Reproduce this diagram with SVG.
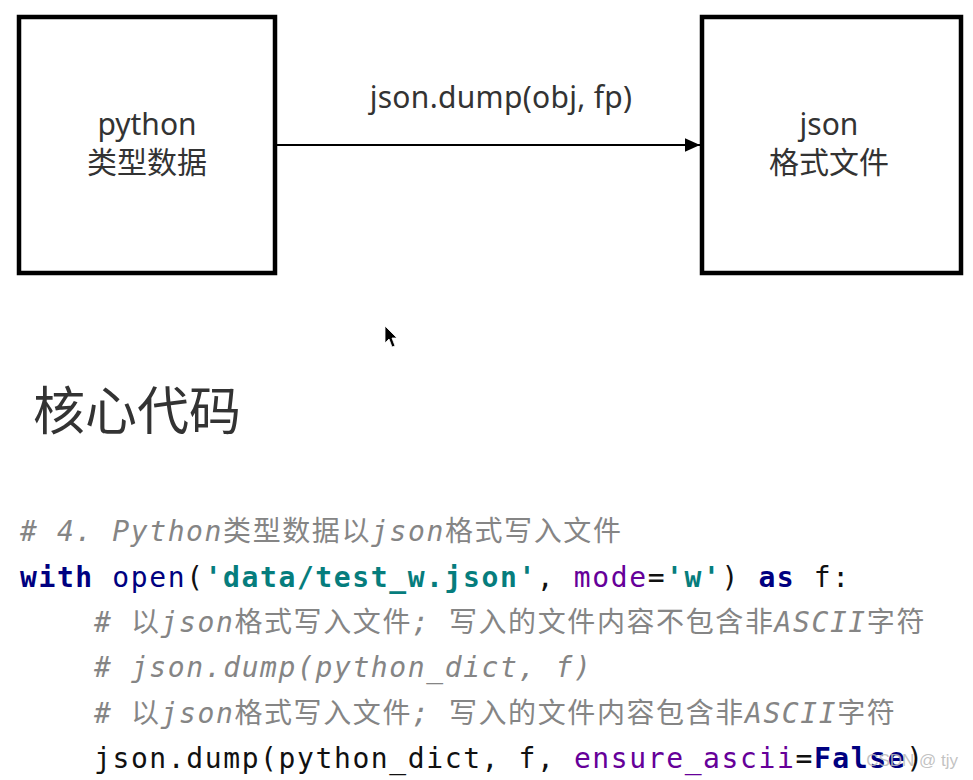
<svg xmlns="http://www.w3.org/2000/svg" width="973" height="780" viewBox="0 0 973 780">
<defs>
<style>
.box{fill:#fff;stroke:#000;stroke-width:4.5}
.lbl{font-family:"Noto Sans","Noto Sans CJK SC",sans-serif;font-size:30px;fill:#333;text-anchor:middle}
.code{font-family:"DejaVu Sans Mono","Noto Sans CJK SC",monospace;font-size:28px;letter-spacing:1.6px;fill:#111}
.cm{fill:#858585}
.it{font-style:italic}
.kw{fill:#000080;font-weight:bold}
.fn{fill:#000080}
.str{fill:#067d7d;font-weight:bold}
.arg{fill:#660099}
</style>
<marker id="ah" viewBox="0 0 10 10" refX="10" refY="5" markerWidth="15" markerHeight="15" markerUnits="userSpaceOnUse" orient="auto">
<path d="M0,0.5 L10,5 L0,9.5 Z" fill="#000"/>
</marker>
</defs>
<rect width="973" height="780" fill="#fff"/>
<g id="node-python">
<rect class="box" x="19" y="17" width="256" height="256"/>
<text class="lbl" x="147" y="135">python</text>
<text class="lbl" x="147" y="173">类型数据</text>
</g>
<g id="node-json">
<rect class="box" x="702" y="17" width="259" height="256"/>
<text class="lbl" x="829" y="135">json</text>
<text class="lbl" x="829" y="173">格式文件</text>
</g>
<g id="connectors">
<line x1="277" y1="145" x2="700" y2="145" stroke="#000" stroke-width="2.2" marker-end="url(#ah)"/>
<text class="lbl" x="501" y="108" letter-spacing="0.3">json.dump(obj, fp)</text>
</g>
<g id="cursor">
<path d="M385,326 L385,343 L389,339 L392,347 L395,346 L392,338 L397,338 Z" fill="#000" stroke="#fff" stroke-width="0.8"/>
</g>
<g id="title">
<text x="33" y="430" font-family="Noto Sans CJK SC,sans-serif" font-size="52" fill="#333">核心代码</text>
</g>
<g id="code">
<text class="code" x="20" y="541"><tspan class="cm it"># 4. Python</tspan><tspan class="cm">类型数据以</tspan><tspan class="cm it">json</tspan><tspan class="cm">格式写入文件</tspan></text>
<text class="code" x="20" y="587"><tspan class="kw">with</tspan> <tspan class="fn">open</tspan>(<tspan class="str">'data/test_w.json'</tspan>, <tspan class="arg">mode</tspan>=<tspan class="str">'w'</tspan>) <tspan class="kw">as</tspan> f:</text>
<text class="code" x="94" y="632"><tspan class="cm it"># </tspan><tspan class="cm">以</tspan><tspan class="cm it">json</tspan><tspan class="cm">格式写入文件</tspan><tspan class="cm it">; </tspan><tspan class="cm">写入的文件内容不包含非</tspan><tspan class="cm it">ASCII</tspan><tspan class="cm">字符</tspan></text>
<text class="code" x="94" y="677"><tspan class="cm it"># json.dump(python_dict, f)</tspan></text>
<text class="code" x="94" y="723"><tspan class="cm it"># </tspan><tspan class="cm">以</tspan><tspan class="cm it">json</tspan><tspan class="cm">格式写入文件</tspan><tspan class="cm it">; </tspan><tspan class="cm">写入的文件内容包含非</tspan><tspan class="cm it">ASCII</tspan><tspan class="cm">字符</tspan></text>
<text class="code" x="94" y="768">json.dump(python_dict, f, <tspan class="arg">ensure_ascii</tspan>=<tspan class="kw">False</tspan>)</text>
</g>
<g id="watermark">
<text x="958" y="766" text-anchor="end" font-family="Liberation Sans,sans-serif" font-size="17" fill="#bbb" fill-opacity="0.9">CSDN @ tjy</text>
</g>
</svg>
